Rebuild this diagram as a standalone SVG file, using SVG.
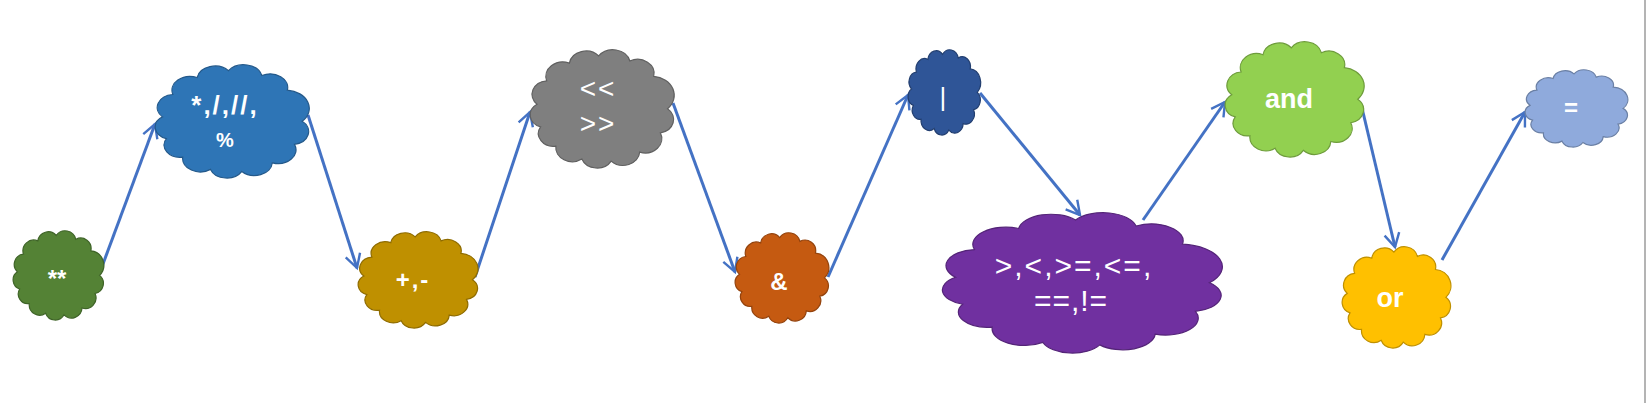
<svg xmlns="http://www.w3.org/2000/svg" xmlns:xlink="http://www.w3.org/1999/xlink" width="1647" height="403" viewBox="0 0 1647 403">
<style>
.cl{stroke-width:1.2}
.box{overflow:visible}
.t{font-family:"Liberation Sans",Arial,sans-serif;fill:#ffffff;text-anchor:middle}
.b{font-weight:bold}
.conn line{stroke:#4472C4;stroke-width:3;fill:none;marker-end:url(#arr)}
</style>
<defs>
<path id="cloud" vector-effect="non-scaling-stroke" d="M92,50 A10.3,10.3 0 0 1 87.4,68.2 A10.8,10.8 0 0 1 74.1,82.8 A10.7,10.7 0 0 1 55.8,89.6 A10.4,10.4 0 0 1 37,88 A10.6,10.6 0 0 1 20.3,78.3 A9.7,9.7 0 0 1 10.5,63.7 A9.6,9.6 0 0 1 8.2,46.5 A10.3,10.3 0 0 1 14.4,28.8 A10.9,10.9 0 0 1 29,15.4 A10.8,10.8 0 0 1 47.8,10 A11.2,11.2 0 0 1 67.8,13.8 A10.6,10.6 0 0 1 83.1,25.4 A14.4,14.4 0 0 1 92,50 Z"/>
<marker id="arr" viewBox="0 0 12 12" refX="10" refY="6" markerWidth="6" markerHeight="6" orient="auto" markerUnits="strokeWidth">
<path d="M1,1 L10,6 L1,11" fill="none" stroke="#4472C4" stroke-width="1.6"/>
</marker>
</defs>
<rect width="1647" height="403" fill="#ffffff"/>
<line x1="1645" y1="0" x2="1645" y2="403" stroke="#b4b4b4" stroke-width="2"/>
<g class="conn" id="connectors">
<line x1="100" y1="272" x2="155" y2="124"/>
<line x1="308" y1="115" x2="357" y2="268"/>
<line x1="475" y1="277" x2="530" y2="112"/>
<line x1="673" y1="103" x2="735" y2="272"/>
<line x1="828" y1="277" x2="908" y2="95"/>
<line x1="980" y1="93" x2="1080" y2="215"/>
<line x1="1143" y1="220" x2="1225" y2="102"/>
<line x1="1362" y1="108" x2="1395" y2="247"/>
<line x1="1442" y1="260" x2="1525" y2="112"/>
</g>
<g id="n-pow">
<svg class="box" x="13" y="231" width="90" height="89" viewBox="3.7 5.5 91.8 89.3" preserveAspectRatio="none"><use xlink:href="#cloud" class="cl" fill="#548235" stroke="#3f6428"/></svg>
<text class="t b" x="57" y="287" font-size="24">**</text>
</g>
<g id="n-mul">
<svg class="box" x="155" y="65" width="153" height="113" viewBox="3.7 5.5 91.8 89.3" preserveAspectRatio="none"><use xlink:href="#cloud" class="cl" fill="#2E75B6" stroke="#24598a"/></svg>
<text class="t b" x="225" y="114" font-size="26" letter-spacing="2">*,/,//,</text>
<text class="t b" x="225" y="147" font-size="20">%</text>
</g>
<g id="n-add">
<svg class="box" x="358" y="232" width="119" height="96" viewBox="3.7 5.5 91.8 89.3" preserveAspectRatio="none"><use xlink:href="#cloud" class="cl" fill="#BF9000" stroke="#8f6c00"/></svg>
<text class="t b" x="413" y="288" font-size="24" letter-spacing="2">+,-</text>
</g>
<g id="n-shift">
<svg class="box" x="530" y="50" width="143" height="118" viewBox="3.7 5.5 91.8 89.3" preserveAspectRatio="none"><use xlink:href="#cloud" class="cl" fill="#7F7F7F" stroke="#606060"/></svg>
<text class="t" x="598" y="98" font-size="28" letter-spacing="2">&lt;&lt;</text>
<text class="t" x="598" y="133" font-size="28" letter-spacing="2">&gt;&gt;</text>
</g>
<g id="n-and-bit">
<svg class="box" x="735" y="233" width="93" height="90" viewBox="3.7 5.5 91.8 89.3" preserveAspectRatio="none"><use xlink:href="#cloud" class="cl" fill="#C55A11" stroke="#94430d"/></svg>
<text class="t b" x="779" y="290" font-size="24">&amp;</text>
</g>
<g id="n-or-bit">
<svg class="box" x="908" y="50" width="72" height="85" viewBox="3.7 5.5 91.8 89.3" preserveAspectRatio="none"><use xlink:href="#cloud" class="cl" fill="#2F5597" stroke="#233f70"/></svg>
<text class="t" x="943" y="106" font-size="26">|</text>
</g>
<g id="n-cmp">
<svg class="box" x="942" y="213" width="278" height="140" viewBox="3.7 5.5 91.8 89.3" preserveAspectRatio="none"><use xlink:href="#cloud" class="cl" fill="#7030A0" stroke="#542478"/></svg>
<text class="t" x="1074" y="276" font-size="30" letter-spacing="2">&gt;,&lt;,&gt;=,&lt;=,</text>
<text class="t" x="1071" y="311" font-size="30" letter-spacing="1">==,!=</text>
</g>
<g id="n-and">
<svg class="box" x="1225" y="42" width="138" height="115" viewBox="3.7 5.5 91.8 89.3" preserveAspectRatio="none"><use xlink:href="#cloud" class="cl" fill="#92D050" stroke="#6e9c3c"/></svg>
<text class="t b" x="1289" y="108" font-size="27">and</text>
</g>
<g id="n-or">
<svg class="box" x="1342" y="247" width="108" height="101" viewBox="3.7 5.5 91.8 89.3" preserveAspectRatio="none"><use xlink:href="#cloud" class="cl" fill="#FFC000" stroke="#bf9000"/></svg>
<text class="t b" x="1390" y="307" font-size="27">or</text>
</g>
<g id="n-assign">
<svg class="box" x="1525" y="70" width="102" height="77" viewBox="3.7 5.5 91.8 89.3" preserveAspectRatio="none"><use xlink:href="#cloud" class="cl" fill="#8FAADC" stroke="#6b80a5"/></svg>
<text class="t b" x="1571" y="116" font-size="24">=</text>
</g>
</svg>
